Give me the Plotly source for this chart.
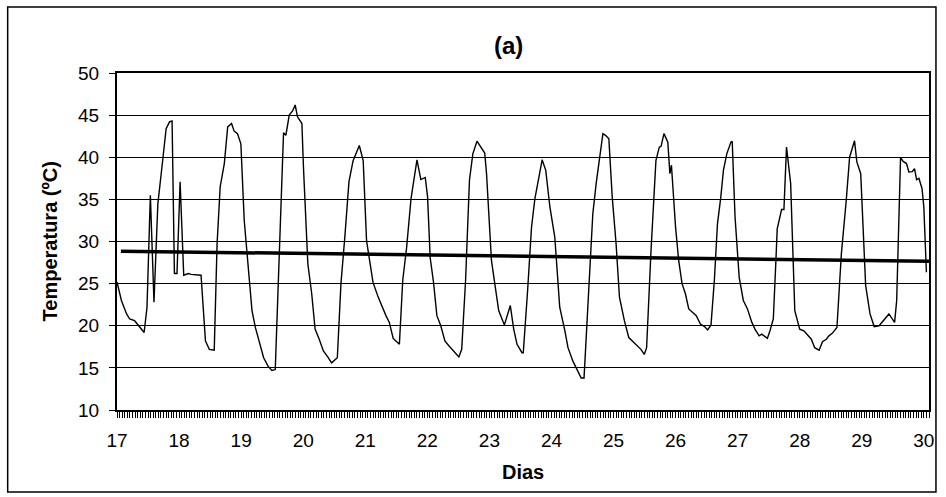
import plotly.graph_objects as go

# Hours since the start of day 17, and temperature (ºC)
hours = [0.0, 1.7, 3.7, 4.9, 6.8, 8.8, 10.5, 11.6, 12.9, 14.3, 15.8, 17.8, 19.0, 20.3, 21.3,
         22.2, 23.2, 24.4, 25.8, 27.6, 28.7, 32.5, 34.2, 35.7, 37.6, 38.7, 39.9, 41.5, 42.8,
         44.3, 45.3, 46.6, 47.9, 49.2, 51.0, 52.2, 53.5, 54.8, 56.7, 58.4, 59.9, 61.2, 62.5,
         63.8, 64.4, 65.3, 66.6, 67.9, 68.9, 69.8, 71.5, 72.1, 73.8, 75.3, 76.6, 78.2, 79.8,
         81.3, 83.0, 85.2, 86.6, 88.2, 89.7, 91.3, 93.7, 95.2, 96.5, 99.0, 101.0, 104.0, 105.3,
         106.8, 109.2, 110.5, 112.0, 113.7, 114.9, 116.0, 117.5, 119.2, 120.1, 121.1, 122.4,
         123.7, 125.2, 126.8, 128.4, 130.3, 132.2, 133.3, 134.8, 136.3, 137.6, 139.2, 140.6,
         142.2, 142.9, 144.8, 146.3, 147.6, 149.8, 152.1, 153.4, 154.7, 156.6, 157.1, 158.7,
         160.3, 161.6, 162.9, 164.4, 165.8, 167.4, 169.3, 171.2, 173.2, 174.4, 176.3, 178.3,
         179.5, 180.6, 182.1, 184.0, 185.3, 186.6, 187.9, 188.9, 190.2, 191.5, 193.0, 194.3,
         196.2, 197.9, 200.1, 202.6, 203.9, 204.8, 206.5, 208.4, 209.7, 210.4, 211.5, 213.0,
         213.8, 214.4, 216.0, 217.2, 218.5, 219.8, 221.1, 222.4, 224.0, 225.6, 227.2, 228.4,
         229.7, 231.0, 232.2, 233.5, 234.5, 235.8, 237.4, 237.9, 239.0, 240.6, 242.2, 243.8,
         245.5, 246.7, 248.3, 249.3, 250.3, 251.5, 252.5, 253.8, 254.8, 255.3, 257.0, 257.9,
         258.9, 260.5, 262.1, 264.0, 265.6, 267.2, 268.5, 269.8, 271.5, 272.8, 274.3, 275.3,
         276.6, 278.4, 280.1, 282.0, 283.3, 285.2, 286.1, 287.6, 289.5, 291.2, 292.8, 294.7,
         296.3, 298.5, 300.7, 301.5, 303.0, 304.0, 305.3, 306.2, 307.5, 308.4, 309.2, 310.1,
         311.3, 312.0, 313.0]
temps = [25.2, 23.0, 21.4, 20.8, 20.6, 19.8, 19.2, 22.2, 35.5, 22.8, 34.5, 40.0, 43.4, 44.2, 44.3,
         26.2, 26.2, 37.1, 26.0, 26.2, 26.1, 26.0, 18.2, 17.2, 17.1, 29.7, 36.5, 39.25, 43.6,
         44.0, 43.1, 42.8, 41.6, 32.5, 25.75, 21.8, 19.8, 18.4, 16.2, 15.2, 14.7, 14.8, 25.75,
         36.9, 42.9, 42.6, 45.0, 45.5, 46.2, 44.8, 44.0, 38.85, 27.35, 23.8, 19.6, 18.4, 17.0,
         16.4, 15.6, 16.2, 25.0, 30.9, 37.1, 39.6, 41.4, 39.6, 30.1, 25.15, 23.4, 21.2, 20.4,
         18.5, 17.8, 25.4, 29.3, 35.1, 37.3, 39.7, 37.35, 37.6, 35.3, 28.1, 25.15,
         21.2, 20.0, 18.2, 17.6, 17.0, 16.3, 17.2, 25.4, 37.3, 40.4, 41.9, 41.2,
         40.5, 38.05, 27.75, 24.55, 21.8, 20.1, 22.4, 19.6, 17.8, 16.8, 16.8, 23.8,
         31.7, 35.1, 37.3, 39.7, 38.45, 34.1, 30.5, 22.2, 19.4, 17.4, 15.8, 14.6,
         13.8, 13.8, 22.2, 33.3, 36.9, 40.2, 42.8, 42.6, 42.2, 35.3, 29.7, 23.4,
         20.6, 18.6, 17.9, 17.2, 16.6, 17.4, 28.9, 39.6, 41.2, 41.3, 42.8, 41.8,
         38.05, 39.05, 31.7, 27.75, 25.0, 23.8, 22.0, 21.6, 21.2, 20.2, 19.9, 19.5,
         20.1, 25.4, 32.1, 35.3, 38.45, 40.4, 41.8, 41.9, 32.9, 25.75, 23.0, 22.0,
         20.4, 19.6, 18.8, 19.0, 18.8, 18.5, 19.4, 20.8, 27.75, 31.5, 33.8, 33.8,
         41.2, 36.9, 21.8, 19.6, 19.4, 18.8, 18.4, 17.4, 17.1, 18.1, 18.4, 18.8,
         19.1, 19.8, 28.5, 34.9, 40.0, 41.95, 39.45, 38.05, 24.8, 21.4, 19.9, 20.0,
         20.6, 21.4, 20.4, 23.0, 39.95, 39.5, 39.25, 38.25, 38.3, 38.65, 37.35, 37.5,
         36.3, 34.1, 26.35]

# Linear trend line endpoints (hours, ºC)
trend_hours = [1.5, 314.0]
trend_temps = [28.85, 27.65]

day_ticks = list(range(17, 31))
y_ticks = list(range(10, 51, 5))

start_day = 17
days = [start_day + h / 24 for h in hours]
trend_days = [start_day + h / 24 for h in trend_hours]

FONT = "Liberation Sans, Arial, sans-serif"

fig = go.Figure()
fig.add_trace(go.Scatter(x=days, y=temps, mode="lines",
                         line=dict(color="black", width=1.4), showlegend=False))
fig.add_trace(go.Scatter(x=trend_days, y=trend_temps, mode="lines",
                         line=dict(color="black", width=3.5), showlegend=False))

L, R, T, B = 117, 12, 73, 87
W, H = 946, 497
pw, ph = W - L - R, H - T - B

def px_x(p):
    return (p - L) / pw

def px_y(p):
    return (H - B - p) / ph

fig.update_layout(
    width=W, height=H,
    margin=dict(l=L, r=R, t=T, b=B, pad=0),
    paper_bgcolor="white", plot_bgcolor="white",
    font=dict(family=FONT, size=18, color="black"),
    showlegend=False,
    xaxis=dict(range=[17, 17 + 314 / 24], tickmode="array", tickvals=day_ticks,
               ticktext=[str(d) for d in day_ticks],
               ticks="outside", ticklen=6, tickwidth=1, tickcolor="black",
               ticklabelstandoff=6,
               minor=dict(dtick=1 / 24, tick0=17, ticks="outside", ticklen=6,
                          tickwidth=1, tickcolor="black", showgrid=False),
               showgrid=False, zeroline=False,
               showline=True, linecolor="black", linewidth=2, mirror=True,
               tickfont=dict(size=19, family=FONT)),
    yaxis=dict(range=[10, 50], tickmode="array", tickvals=y_ticks,
               ticks="outside", ticklen=6, tickwidth=1, tickcolor="black",
               ticklabelstandoff=6,
               showgrid=True, gridcolor="black", gridwidth=1, zeroline=False,
               showline=True, linecolor="black", linewidth=2, mirror=True,
               tickfont=dict(size=19, family=FONT)),
    shapes=[dict(type="rect", xref="paper", yref="paper",
                 x0=px_x(7), x1=px_x(941), y0=px_y(492), y1=px_y(7),
                 line=dict(color="black", width=1.5), fillcolor="rgba(0,0,0,0)",
                 layer="below")],
    annotations=[
        dict(text="<b>(a)</b>", xref="paper", yref="paper", x=px_x(511), y=px_y(45),
             showarrow=False, font=dict(size=24, family=FONT), xanchor="center", yanchor="middle"),
        dict(text="<b>Temperatura (ºC)</b>", xref="paper", yref="paper", x=px_x(50), y=px_y(241),
             showarrow=False, textangle=-90, font=dict(size=20, family=FONT),
             xanchor="center", yanchor="middle"),
        dict(text="<b>Dias</b>", xref="paper", yref="paper", x=px_x(525), y=px_y(472),
             showarrow=False, font=dict(size=20, family=FONT), xanchor="center", yanchor="middle"),
    ],
)

fig.write_html("out.html", config={"displayModeBar": False},
               post_script="document.body.style.margin='0';document.body.style.overflow='hidden';")
